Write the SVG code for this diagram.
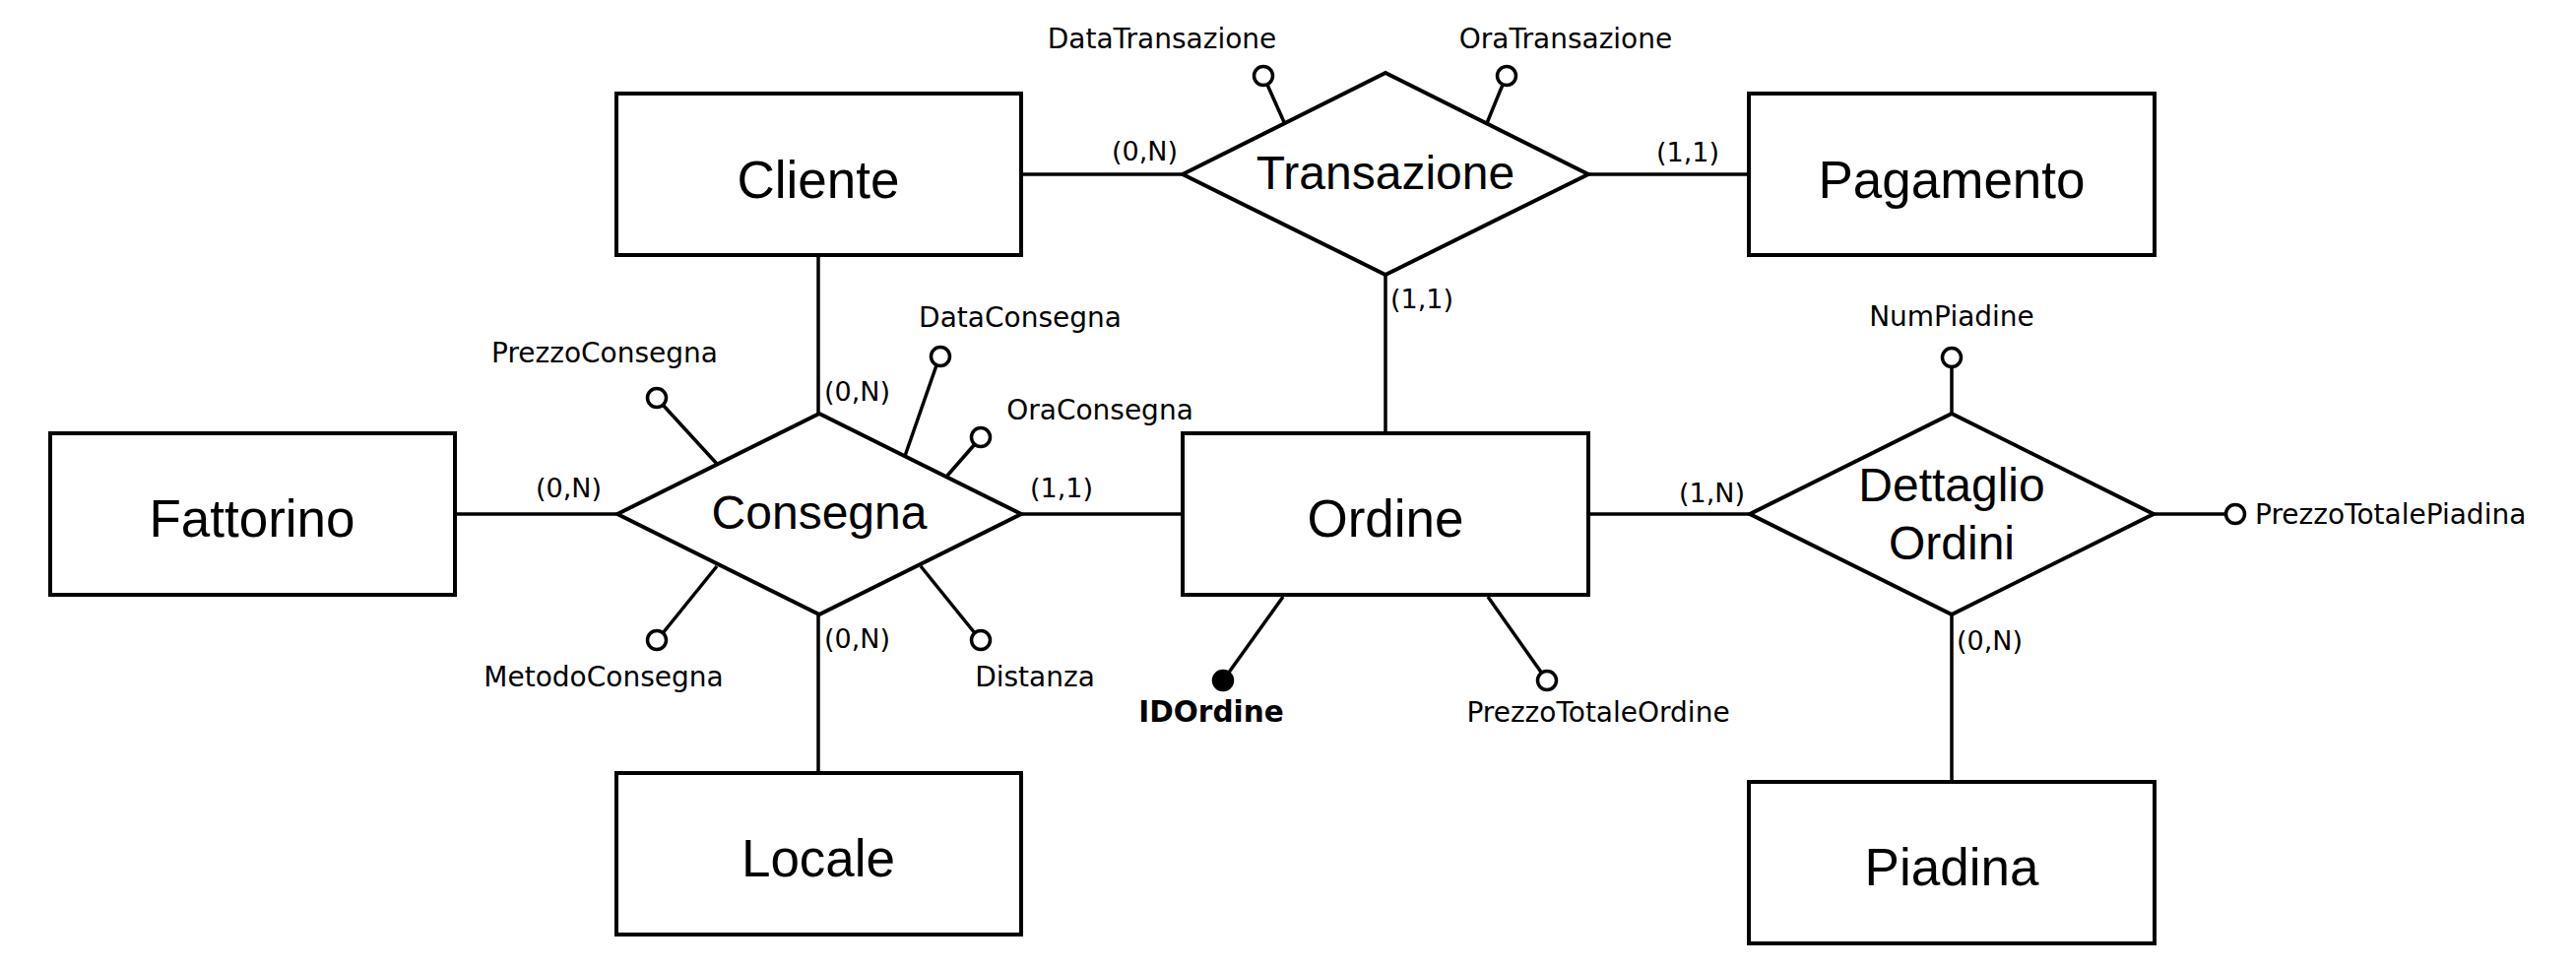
<svg xmlns="http://www.w3.org/2000/svg" width="2616" height="984" viewBox="0 0 2616 984">
<style>
.ent{fill:#fff;stroke:#000;stroke-width:4}
.rel{fill:#fff;stroke:#000;stroke-width:4;stroke-linejoin:miter}
.en{font-family:"Liberation Sans",Arial,sans-serif;font-size:53px;text-anchor:middle;fill:#000}
.rn{font-family:"Liberation Sans",Arial,sans-serif;font-size:48px;text-anchor:middle;fill:#000}
.con{stroke:#000;stroke-width:3.5;fill:none}
.al{stroke:#000;stroke-width:3.5;fill:none}
.ac{fill:#fff;stroke:#000;stroke-width:3.5}
.ak{fill:#000;stroke:#000;stroke-width:3.5}
.lb{font-family:"DejaVu Sans",Verdana,sans-serif;font-size:28px;fill:#000}
.card{font-family:"DejaVu Sans",Verdana,sans-serif;font-size:27px;fill:#000}
.mid{text-anchor:middle}
.bold{font-weight:bold;font-size:29.5px}
</style>
<rect width="2616" height="984" fill="#fff"/>
<g id="connectors">
<line class="con" x1="1037" y1="177" x2="1201" y2="177"/>
<line class="con" x1="1613" y1="177" x2="1776" y2="177"/>
<line class="con" x1="1407" y1="279" x2="1407" y2="440"/>
<line class="con" x1="831" y1="259" x2="831" y2="420"/>
<line class="con" x1="462" y1="522" x2="627" y2="522"/>
<line class="con" x1="1037" y1="522" x2="1201" y2="522"/>
<line class="con" x1="831" y1="624" x2="831" y2="785"/>
<line class="con" x1="1613" y1="522" x2="1777" y2="522"/>
<line class="con" x1="1982" y1="624" x2="1982" y2="794"/>
<text class="card" x="1129" y="163">(0,N)</text>
<text class="card" x="1682" y="164">(1,1)</text>
<text class="card" x="1412" y="313">(1,1)</text>
<text class="card" x="837" y="407">(0,N)</text>
<text class="card" x="544" y="505">(0,N)</text>
<text class="card" x="1046" y="505">(1,1)</text>
<text class="card" x="837" y="658">(0,N)</text>
<text class="card" x="1705" y="510">(1,N)</text>
<text class="card" x="1987" y="660">(0,N)</text>
</g>
<g id="Cliente">
<rect class="ent" x="626" y="95" width="411" height="164"/>
<text class="en" x="831" y="201">Cliente</text>
</g>
<g id="Pagamento">
<rect class="ent" x="1776" y="95" width="412" height="164"/>
<text class="en" x="1982" y="201">Pagamento</text>
</g>
<g id="Fattorino">
<rect class="ent" x="51" y="440" width="411" height="164"/>
<text class="en" x="256" y="545">Fattorino</text>
</g>
<g id="Ordine">
<rect class="ent" x="1201" y="440" width="412" height="164"/>
<text class="en" x="1407" y="545">Ordine</text>
<line class="al" x1="1303" y1="606" x2="1242" y2="691"/>
<circle class="ak" cx="1242" cy="691" r="9.5"/>
<text class="lb mid bold" x="1230" y="733">IDOrdine</text>
<line class="al" x1="1511" y1="606" x2="1571" y2="691"/>
<circle class="ac" cx="1571" cy="691" r="9.5"/>
<text class="lb mid" x="1623" y="733">PrezzoTotaleOrdine</text>
</g>
<g id="Locale">
<rect class="ent" x="626" y="785" width="411" height="164"/>
<text class="en" x="831" y="890">Locale</text>
</g>
<g id="Piadina">
<rect class="ent" x="1776" y="794" width="412" height="164"/>
<text class="en" x="1982" y="899">Piadina</text>
</g>
<g id="Transazione">
<line class="al" x1="1304" y1="124" x2="1287" y2="86"/>
<circle class="ac" cx="1283" cy="77" r="9.5"/>
<text class="lb mid" x="1180" y="49">DataTransazione</text>
<line class="al" x1="1510" y1="125" x2="1526" y2="86"/>
<circle class="ac" cx="1530" cy="77" r="9.5"/>
<text class="lb mid" x="1590" y="49">OraTransazione</text>
<polygon class="rel" points="1201,177 1407,74 1613,177 1407,279"/>
<text class="rn" x="1407" y="192">Transazione</text>
</g>
<g id="Consegna">
<line class="al" x1="728" y1="471" x2="673" y2="411"/>
<circle class="ac" cx="667" cy="404" r="9.5"/>
<text class="lb mid" x="614" y="368">PrezzoConsegna</text>
<line class="al" x1="919" y1="463" x2="951" y2="371"/>
<circle class="ac" cx="955" cy="362" r="9.5"/>
<text class="lb mid" x="1036" y="332">DataConsegna</text>
<line class="al" x1="962" y1="483" x2="990" y2="451"/>
<circle class="ac" cx="996" cy="444" r="9.5"/>
<text class="lb mid" x="1117" y="426">OraConsegna</text>
<line class="al" x1="728" y1="575" x2="673" y2="643"/>
<circle class="ac" cx="667" cy="650" r="9.5"/>
<text class="lb mid" x="613" y="697">MetodoConsegna</text>
<line class="al" x1="935" y1="575" x2="990" y2="643"/>
<circle class="ac" cx="996" cy="650" r="9.5"/>
<text class="lb mid" x="1051" y="697">Distanza</text>
<polygon class="rel" points="627,522 832,420 1037,522 832,624"/>
<text class="rn" x="832" y="537">Consegna</text>
</g>
<g id="DettaglioOrdini">
<line class="al" x1="1982" y1="420" x2="1982" y2="372"/>
<circle class="ac" cx="1982" cy="363" r="9.5"/>
<text class="lb mid" x="1982" y="331">NumPiadine</text>
<line class="al" x1="2187" y1="522" x2="2260" y2="522"/>
<circle class="ac" cx="2270" cy="522" r="9.5"/>
<text class="lb" x="2290" y="532">PrezzoTotalePiadina</text>
<polygon class="rel" points="1777,522 1982,420 2187,522 1982,624"/>
<text class="rn" x="1982" y="509">Dettaglio</text>
<text class="rn" x="1982" y="568">Ordini</text>
</g>
</svg>
